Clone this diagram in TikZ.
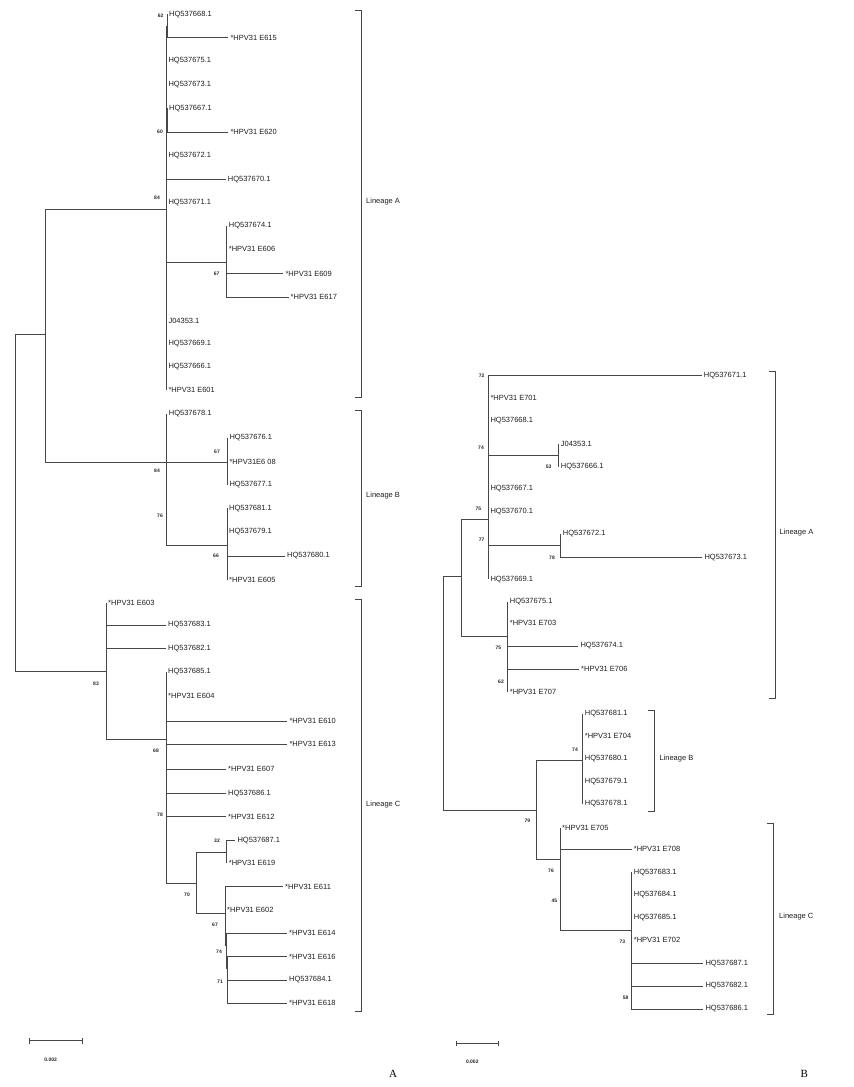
\documentclass[tikz,border=0pt]{standalone}
\usepackage{fontspec}
\setmainfont{Liberation Sans}
\newfontfamily\panelfont{Liberation Serif}
\begin{document}
\begin{tikzpicture}[x=1pt,y=-1pt,
  br/.style={line width=0.65pt, draw=black!72},
  leaf/.style={anchor=west, inner xsep=2pt, inner ysep=0.5pt, font=\fontsize{7.5}{8}\selectfont, text=black!88},
  bs/.style={inner sep=0pt, font=\bfseries\fontsize{5}{6}\selectfont, text=black!85},
  lin/.style={anchor=west, inner sep=0pt, font=\fontsize{7.5}{8}\selectfont, text=black!88},
  brk/.style={line width=0.65pt, draw=black!72},
  panel/.style={inner sep=0pt, font=\panelfont\fontsize{11}{12}\selectfont}]
\useasboundingbox (0,0) rectangle (854,1087);
\fill[white] (0,0) rectangle (854,1087);

% ---------------- Tree A: internal nodes
\coordinate (A0) at (15,502.5);
\coordinate (A1) at (45.7,334);
\coordinate (AA) at (166.3,209);
\coordinate (AB) at (166.7,462.7);
\coordinate (AC) at (106,671);
\coordinate (n62) at (167,26);
\coordinate (n60) at (167,120);
\coordinate (nA67) at (226.7,262.3);
\coordinate (nB67) at (227.3,462.7);
\coordinate (nB66) at (227,545.3);
\coordinate (nC68) at (166,739);
\coordinate (nC70) at (196.7,883.3);
\coordinate (nC32) at (226.7,852.3);
\coordinate (nC67) at (225,913.3);
\coordinate (nC74) at (226,945);
\coordinate (nC71) at (227,968);

% leaves A
\node[leaf] (a1) at (167,14.3) {HQ537668.1};
\node[leaf] (a2) at (228.3,37.7) {*HPV31 E615};
\node[leaf] (a3) at (166.3,61) {HQ537675.1};
\node[leaf] (a4) at (166.3,84.3) {HQ537673.1};
\node[leaf] (a5) at (167,108.3) {HQ537667.1};
\node[leaf] (a6) at (228.3,132) {*HPV31 E620};
\node[leaf] (a7) at (166.3,155.3) {HQ537672.1};
\node[leaf] (a8) at (225.7,179.3) {HQ537670.1};
\node[leaf] (a9) at (166.3,202.3) {HQ537671.1};
\node[leaf] (a10) at (226.7,225.7) {HQ537674.1};
\node[leaf] (a11) at (226.7,249) {*HPV31 E606};
\node[leaf] (a12) at (283.3,273.5) {*HPV31 E609};
\node[leaf] (a13) at (288.5,297.3) {*HPV31 E617};
\node[leaf] (a14) at (166.3,320.7) {J04353.1};
\node[leaf] (a15) at (166.3,343.3) {HQ537669.1};
\node[leaf] (a16) at (166.3,366.7) {HQ537666.1};
\node[leaf] (a17) at (166.3,390) {*HPV31 E601};
\node[leaf] (a18) at (166.7,414) {HQ537678.1};
\node[leaf] (a19) at (227.3,437.7) {HQ537676.1};
\node[leaf] (a20) at (227.3,461.7) {*HPV31E6 08};
\node[leaf] (a21) at (227.3,485) {HQ537677.1};
\node[leaf] (a22) at (227,508.3) {HQ537681.1};
\node[leaf] (a23) at (227,531.7) {HQ537679.1};
\node[leaf] (a24) at (285,556) {HQ537680.1};
\node[leaf] (a25) at (227,580) {*HPV31 E605};
\node[leaf] (a26) at (106,603.3) {*HPV31 E603};
\node[leaf] (a27) at (166,625) {HQ537683.1};
\node[leaf] (a28) at (166,648.3) {HQ537682.1};
\node[leaf] (a29) at (166,671.7) {HQ537685.1};
\node[leaf] (a30) at (166,695.7) {*HPV31 E604};
\node[leaf] (a31) at (287.3,721) {*HPV31 E610};
\node[leaf] (a32) at (287.3,744.3) {*HPV31 E613};
\node[leaf] (a33) at (226,769.3) {*HPV31 E607};
\node[leaf] (a34) at (226,793.3) {HQ537686.1};
\node[leaf] (a35) at (226,816.7) {*HPV31 E612};
\node[leaf] (a36) at (235.3,840.7) {HQ537687.1};
\node[leaf] (a37) at (226.7,863.3) {*HPV31 E619};
\node[leaf] (a38) at (283,886.7) {*HPV31 E611};
\node[leaf] (a39) at (225,910) {*HPV31 E602};
\node[leaf] (a40) at (287,933.3) {*HPV31 E614};
\node[leaf] (a41) at (287,956.7) {*HPV31 E616};
\node[leaf] (a42) at (287,980) {HQ537684.1};
\node[leaf] (a43) at (287,1003.3) {*HPV31 E618};

\foreach \p/\c in {A0/A1, A0/AC, A1/AA, A1/AB, AA/n62, AA/n60, AA/nA67, AB/nB67, AB/nB66, AC/nC68, nC68/nC70, nC70/nC32, nC70/nC67, nC67/nC74, nC74/nC71}
  \draw[br] (\p) |- (\c);
\foreach \p/\c in {n62/a1, n62/a2, AA/a3, AA/a4, n60/a5, n60/a6, AA/a7, AA/a8, AA/a9, nA67/a10, nA67/a11, nA67/a12, nA67/a13, AA/a14, AA/a15, AA/a16, AA/a17, AB/a18, nB67/a19, nB67/a20, nB67/a21, nB66/a22, nB66/a23, nB66/a24, nB66/a25, AC/a26, AC/a27, AC/a28, nC68/a29, nC68/a30, nC68/a31, nC68/a32, nC68/a33, nC68/a34, nC68/a35, nC32/a36, nC32/a37, nC67/a38, nC67/a39, nC74/a40, nC71/a41, nC71/a42, nC71/a43}
  \draw[br] (\p) |- (\c.west);

% bootstrap A
\node[bs] (sa1) at (160.7,15.7) {62};
\node[bs] (sa2) at (160,132) {60};
\node[bs] (sa3) at (157,198) {84};
\node[bs] (sa4) at (216.7,274) {67};
\node[bs] (sa5) at (217,451.7) {67};
\node[bs] (sa6) at (157,471) {84};
\node[bs] (sa7) at (160,515.7) {76};
\node[bs] (sa8) at (216,556) {66};
\node[bs] (sa9) at (96,683.3) {83};
\node[bs] (sa10) at (156,751) {68};
\node[bs] (sa11) at (160,814.3) {78};
\node[bs] (sa12) at (217,841) {32};
\node[bs] (sa13) at (187,895) {70};
\node[bs] (sa14) at (215,925) {67};
\node[bs] (sa15) at (219,952) {74};
\node[bs] (sa16) at (220,982) {71};

% brackets A
\draw[brk] (355,10) -- (361,10) -- (361,397.7) -- (355,397.7);
\draw[brk] (355,410) -- (361,410) -- (361,586) -- (355,586);
\draw[brk] (355,599.3) -- (361,599.3) -- (361,1011) -- (355,1011);
\node[lin] (la) at (366,202) {Lineage A};
\node[lin] (lb) at (366,496) {Lineage B};
\node[lin] (lc) at (366,805) {Lineage C};

% scale A
\draw[brk] (29,1040.7) -- (82.3,1040.7);
\draw[brk] (29,1037.9) -- (29,1043.5);
\draw[brk] (82.3,1037.9) -- (82.3,1043.5);
\node[bs] (sca) at (50.7,1060) {0.002};
\node[panel] (pa) at (393,1074) {A};

% ---------------- Tree B: internal nodes
\coordinate (B0) at (443.7,693.4);
\coordinate (BA) at (461.7,576.7);
\coordinate (BA1) at (488.3,519);
\coordinate (BA2) at (507.7,636);
\coordinate (nb74) at (558.7,455.7);
\coordinate (nb78) at (560.7,545.7);
\coordinate (BB) at (536.7,810);
\coordinate (BLB) at (582.7,760);
\coordinate (BC) at (560,859.3);
\coordinate (n73) at (631.7,930);

\node[leaf] (b1) at (701.7,375.7) {HQ537671.1};
\node[leaf] (b2) at (488.3,397.7) {*HPV31 E701};
\node[leaf] (b3) at (488.3,420.3) {HQ537668.1};
\node[leaf] (b4) at (558.7,444) {J04353.1};
\node[leaf] (b5) at (558.7,466.7) {HQ537666.1};
\node[leaf] (b6) at (488.3,488.7) {HQ537667.1};
\node[leaf] (b7) at (488.3,511.3) {HQ537670.1};
\node[leaf] (b8) at (560.7,534) {HQ537672.1};
\node[leaf] (b9) at (702.3,557.3) {HQ537673.1};
\node[leaf] (b10) at (488.3,579.3) {HQ537669.1};
\node[leaf] (b11) at (507.7,601.7) {HQ537675.1};
\node[leaf] (b12) at (507.7,623.3) {*HPV31 E703};
\node[leaf] (b13) at (578.3,646) {HQ537674.1};
\node[leaf] (b14) at (579,669) {*HPV31 E706};
\node[leaf] (b15) at (507.7,691.7) {*HPV31 E707};
\node[leaf] (b16) at (582.7,714) {HQ537681.1};
\node[leaf] (b17) at (582.7,736) {*HPV31 E704};
\node[leaf] (b18) at (582.7,759) {HQ537680.1};
\node[leaf] (b19) at (582.7,781.7) {HQ537679.1};
\node[leaf] (b20) at (582.7,804) {HQ537678.1};
\node[leaf] (b21) at (560,828.3) {*HPV31 E705};
\node[leaf] (b22) at (631.7,849.3) {*HPV31 E708};
\node[leaf] (b23) at (631.7,872.3) {HQ537683.1};
\node[leaf] (b24) at (631.7,894.3) {HQ537684.1};
\node[leaf] (b25) at (631.7,917.3) {HQ537685.1};
\node[leaf] (b26) at (631.7,940) {*HPV31 E702};
\node[leaf] (b27) at (703.3,963.7) {HQ537687.1};
\node[leaf] (b28) at (703.3,986) {HQ537682.1};
\node[leaf] (b29) at (703.3,1009) {HQ537686.1};

\foreach \p/\c in {B0/BA, B0/BB, BA/BA1, BA/BA2, BA1/nb74, BA1/nb78, BB/BLB, BB/BC, BC/n73}
  \draw[br] (\p) |- (\c);
\foreach \p/\c in {BA1/b1, BA1/b2, BA1/b3, nb74/b4, nb74/b5, BA1/b6, BA1/b7, nb78/b8, nb78/b9, BA1/b10, BA2/b11, BA2/b12, BA2/b13, BA2/b14, BA2/b15, BLB/b16, BLB/b17, BLB/b18, BLB/b19, BLB/b20, BC/b21, BC/b22, n73/b23, n73/b24, n73/b25, n73/b26, n73/b27, n73/b28, n73/b29}
  \draw[br] (\p) |- (\c.west);

% bootstrap B
\node[bs] (sb1) at (481.7,376) {72};
\node[bs] (sb2) at (481,447.3) {74};
\node[bs] (sb3) at (548.7,466.7) {53};
\node[bs] (sb4) at (478.3,508.7) {75};
\node[bs] (sb5) at (481.7,540) {77};
\node[bs] (sb6) at (552,557.7) {78};
\node[bs] (sb7) at (498.3,647.7) {75};
\node[bs] (sb8) at (501,681.7) {62};
\node[bs] (sb9) at (575,749.3) {74};
\node[bs] (sb10) at (527.3,820.7) {79};
\node[bs] (sb11) at (551,870.7) {76};
\node[bs] (sb12) at (554.3,901) {45};
\node[bs] (sb13) at (622.3,941.7) {73};
\node[bs] (sb14) at (625.7,997.7) {58};

% brackets B
\draw[brk] (769,371.7) -- (775,371.7) -- (775,698.3) -- (769,698.3);
\draw[brk] (648.3,710) -- (654.3,710) -- (654.3,811) -- (648.3,811);
\draw[brk] (767.3,823.3) -- (773.3,823.3) -- (773.3,1014) -- (767.3,1014);
\node[lin] (lba) at (779.3,532.3) {Lineage A};
\node[lin] (lbb) at (659.3,758.3) {Lineage B};
\node[lin] (lbc) at (779,916.7) {Lineage C};

% scale B
\draw[brk] (456.7,1043.3) -- (498.3,1043.3);
\draw[brk] (456.7,1040.5) -- (456.7,1046.1);
\draw[brk] (498.3,1040.5) -- (498.3,1046.1);
\node[bs] (scb) at (472.3,1061.7) {0.002};
\node[panel] (pb) at (804.3,1074) {B};
\end{tikzpicture}
\end{document}
